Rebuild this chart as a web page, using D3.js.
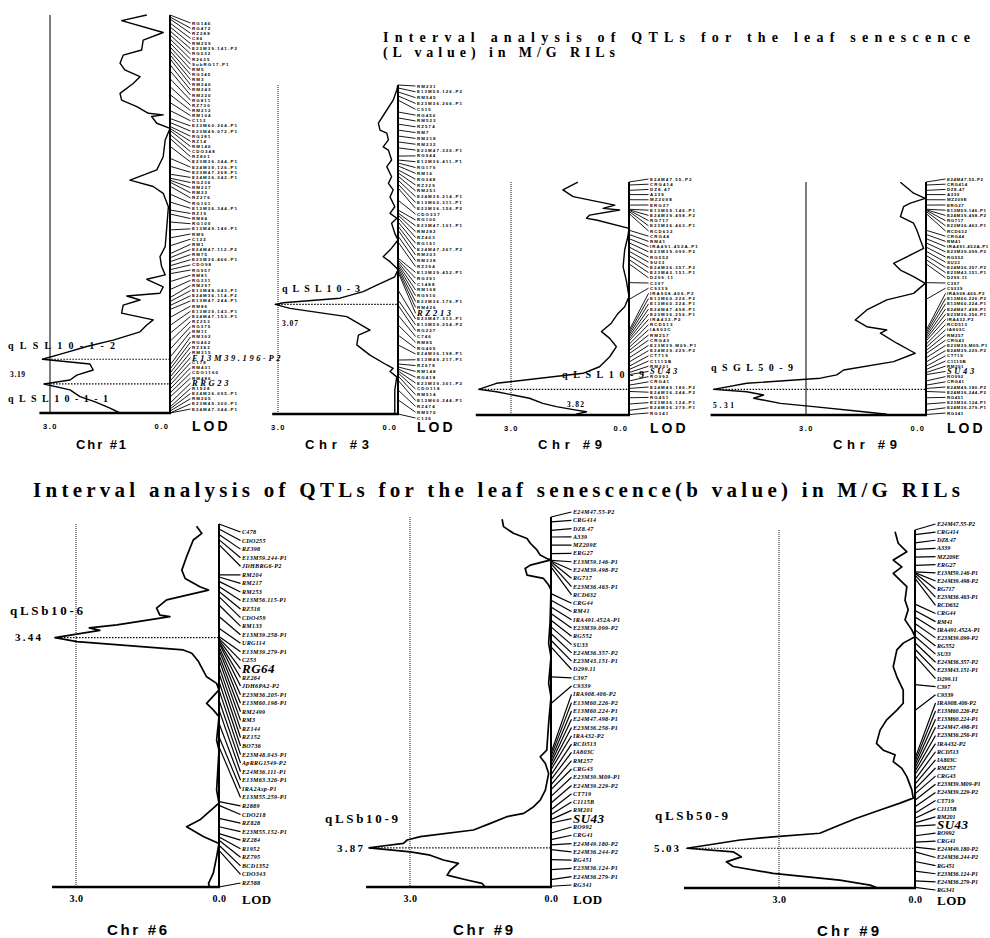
<!DOCTYPE html>
<html>
<head>
<meta charset="utf-8">
<script src="https://cdn.jsdelivr.net/npm/d3@7"></script>
<style>
body { margin: 0; background: #fff; }
text { fill: #000; }
</style>
</head>
<body>
<div id="chart-area"></div>
<script>
// ---------------- data ----------------
// marker names (top to bottom) and their positions on the chromosome (0-100)
var chr1Markers = [
    "RG146","RG472","RZ288","C86","RM259","E23M39.141-P2","RG532","R2635","SubRG17-P1","RM5",
    "RG345","RM3","RM240","RM243","RM220","RG811","RZ730","RM212","RM104","C112",
    "E23M60.264-P1","E23M49.072-P1","RG381","RZ14","RM140","CDO348","RZ801","E23M36.344-P1","E24M39.126-P1","E23M47.268-P1",
    "E24M36.342-P1","RG236","RM237","RM23","RZ276","RG101","E13M36.344-P1","RZ19","RM84","RG109",
    "E13M49.146-P1","RM9","C122","RM1","E24M47.112-P2","RM75","E23M36.466-P1","CDO98","RG957","RM81",
    "RG331","RM297","E13M48.043-P1","E24M36.114-P2","E13M47.244-P1","RM86","E13M39.143-P1","E24M47.153-P1","RZ253","RG375",
    "RM11","RM302","RG462","RZ382","RM315","E13M39.196-P2","C178","RM431","CDO1160","RM486",
    "RRG23","R1928","E24M36.095-P1","RM265","E23M49.300-P1","E24M47.344-P1"];
var chr1MarkerPos = [
    0,0.5,1,2,3,4,5,6,7,8,
    9,10,11,12.5,14,16,18,20,22,24,
    26,27,28,28.5,29,30,31,33,36,38,
    40,41,41.5,42,43,45,47,49,50,52,
    54,56,58,60,61,62,63,64,65,67,
    69,71,72,73,74,76,78,80,82,84,
    86,88,89,90,91,92,93,94,95,96,
    97.5,98.5,99,99.5,100,100];

var chr3Markers = [
    "RM231","E13M59.126-P2","RM545","E23M36.266-P1","C515","RG450","RM523","RZ574","RM7","RM218",
    "RM232","E23M47.320-P1","RG944","E13M36.411-P1","RG179","RM16","RG348","RZ329","RM251","E24M39.214-P1",
    "E13M60.311-P1","E23M36.156-P2","CDO337","RG100","E23M47.101-P1","RM282","RZ403","RG191","E24M47.267-P2","RM203",
    "RM338","RZ394","E13M39.452-P1","RG391","C1488","RM168","RG910","E23M36.176-P1","RM426","RZ213",
    "E23M47.313-P1","E13M59.254-P2","RG227","C746","RM85","RG409","E24M36.198-P1","E13M49.217-P1","RZ678","RM148",
    "RG418","E23M39.301-P2","CDO118","RM514","E13M60.244-P1","RZ474","RM570","C136"];
var chr3MarkerPos = [
    0,0.9,2.1,3.3,4.6,8.2,10,11.9,13.7,15.5,
    17.3,19.1,21.6,22.8,23.7,24.6,25.8,26.7,27.7,28.9,
    30.1,31.3,35,38,38.9,39.5,40.4,41.6,42.9,44.1,
    45.9,47.7,52.6,53.2,53.8,54.4,55,55.6,56.2,56.8,
    62.3,65.3,66.9,69.9,72.9,76,79,83.6,84.8,85.7,
    86.3,86.9,87.5,88.4,89.7,92.7,95.7,100];

var chr6Markers = [
    "C478","CDO255","RZ398","E13M59.244-P1","JDHBRG6-P2","RM204","RM217","RM253","E13M56.115-P1","RZ516",
    "CDO459","RM133","E13M39.258-P1","URG114","E13M39.279-P1","C253","RG64","RZ264","JDH6PA2-P2","E23M36.205-P1",
    "E13M60.198-P1","RM2499","RM3","RZ144","RZ152","BO736","E23M48.043-P1","ApRRG1549-P2","E24M36.111-P1","E13M63.326-P1",
    "IRA2Asp-P1","E13M55.259-P1","R2889","CDO218","RZ828","E23M55.152-P1","RZ284","R1952","RZ795","BCD1352",
    "CDO343","RZ588"];
var chr6MarkerPos = [
    0,1.4,2.9,4.3,5.7,14,14.6,15.8,17.2,18.6,
    20,22.3,25.5,28.7,31,31.5,31.9,32.4,32.8,33.8,
    34.7,36.1,37.4,39.3,41.1,43.4,45.7,48.5,51.2,54.9,
    58.6,61.4,76.5,77.5,81.1,83.4,85.3,86.2,87.1,88.5,
    89.9,100];

var chr9Markers = [
    "E24M47.55-P2","CRG414","DZ8.47","A339","MZ209E","ERG27","E13M59.146-P1","E24M39.498-P2","RG717","E23M36.463-P1",
    "RCD632","CRG44","RM41","IRA491.452A-P1","E23M39.099-P2","RG552","SU33","E24M36.357-P2","E23M43.151-P1","D299.11",
    "C397","C9339","IRA908.406-P2","E13M60.226-P2","E13M60.224-P1","E24M47.498-P1","E23M36.256-P1","IRA432-P2","RCD513","IA803C",
    "RM257","CRG43","E23M39.M09-P1","E24M39.229-P2","CT719","C1115B","RM201","SU43","RO992","CRG41",
    "E24M49.180-P2","E24M36.244-P2","RG451","E23M36.124-P1","E24M36.279-P1","RG341"];
var chr9MarkerPos = [
    0,1.3,3.6,5.4,7.6,9.9,11.7,11.9,12.1,12.6,
    13.5,20.7,22.5,24.3,26.1,27.9,29.7,31.5,33.3,35.1,
    43.2,50.4,63.8,64.7,65.6,66.5,67.4,68.3,69.7,71,
    72.4,73.7,75.5,77.3,79.1,80.5,81.8,82.7,85.4,87.2,
    88.6,89.9,92.6,95.3,98,99.8];

// LOD profiles: [position, LOD]
var lodChr1L = [[0,0.58],[1.4,1.21],[4.4,0.17],[6.3,0.67],[8.8,0.71],[10.1,1.17],[12.1,1.25],[13.8,1.13],[15.5,0.75],[17.2,0.92],
    [19.7,1.25],[21.4,1.21],[23,0.83],[24.7,0.54],[25.1,0.17],[25.5,0.46],[27.2,0.33],[28.5,0],[31.4,0.12],[35.6,0.17],
    [38.9,0.33],[41.5,1.0],[43.1,0.42],[44.8,0.17],[48.2,0.04],[53.2,0.08],[58.2,0.12],[60.7,0.25],[63.2,0.21],[65.3,0.12],
    [66.4,0.58],[68.3,0.17],[69.9,0.25],[70.6,1.08],[71.6,0.75],[72.9,1.17],[74.9,1.21],[76.6,0.42],[77.9,0.58],[79.6,0.75],
    [81.7,1.42],[83.3,2.08],[85,2.67],[86.5,3.19],[87.7,2.0],[89.2,1.92],[90.5,2.33],[91.7,2.5],[92.7,3.15],[94.2,2.5],
    [95.9,2.25],[97.2,1.87],[98.8,1.5],[100,1.25]];
var lodChr3L = [[0,0],[1.5,0.03],[4.6,0.12],[7.6,0.28],[11.6,0.49],[13.7,0.45],[14.6,0.28],[16.7,0.24],[18.8,0.37],[19.8,0.24],
    [22.8,0.16],[24.8,0.28],[27.9,0.16],[29.9,0.24],[31.9,0.12],[34.0,0.2],[37.0,0.08],[39.0,0.2],[40.5,0.03],[42.0,0.16],
    [45.1,0.08],[47.1,0],[49.6,0.16],[52.2,0.37],[53.7,0.2],[55.7,0.03],[56.2,0],[58.3,0.08],[60.8,0.53],[62.8,0.87],
    [64.8,1.45],[66.2,2.87],[66.7,3.07],[67.9,2.7],[70.4,1.28],[74.5,0.7],[76.0,0.99],[79.0,1.03],[80.5,0.87],[82.1,0.7],
    [85.1,0.28],[86.1,0.12],[87.1,0.2],[88.7,0.03],[92.7,0.08],[100,0.08]];
var lodChr9L = [[0.1,1.3],[3.4,1.68],[6.3,1.42],[9.9,0.36],[11.3,0.66],[12.0,0.24],[14.2,1.0],[15.6,1.08],[16.3,0.83],[19.9,0],
    [23.5,0.03],[29.2,0.11],[36.4,0.15],[42.1,0.07],[49.2,0],[53.5,0.11],[56.4,0.28],[60.6,0.45],[64.2,0.7],[67.1,0.49],
    [70.7,0.32],[75.0,0.49],[79.3,0.75],[82.1,1.17],[86.4,3.37],[89.0,3.82],[90.0,3.37],[92.8,2.53],[95.0,2.19],[96.4,1.85],
    [97.9,1.34],[98.6,1.08],[99.6,1.34]];
var lodChr9SGL = [[0.1,0.64],[4.8,0.31],[7.0,0.02],[9.1,0.39],[10.6,0.56],[14.9,0.64],[17.7,0.31],[20.6,0.23],[24.9,0.14],[28.5,0.06],
    [32.1,0.48],[34.9,0.81],[37.8,0.64],[40.6,0.31],[43.5,0.02],[47.8,0.31],[50.6,0.98],[54.9,1.48],[59.2,1.77],[62.1,1.48],
    [63.5,0.98],[64.9,1.14],[69.2,0.73],[73.5,0.27],[77.1,0.81],[80.7,2.06],[82.8,2.23],[84.2,2.64],[86.4,4.48],[89.0,5.31],
    [90.0,4.48],[91.4,4.06],[92.8,4.31],[95.0,3.64],[96.4,2.81],[98.6,1.56],[99.7,0.98]];
var lodChr6b = [[0.6,0.47],[2.6,0.36],[4.4,0.54],[9.0,0.68],[12.7,0.78],[15.0,0.71],[17.3,0.40],[18.2,0.22],[20.9,1.10],[23.2,1.31],
    [25.1,1.24],[25.5,1.03],[27.8,2.14],[28.6,2.72],[29.3,2.5],[31.3,3.44],[32.4,2.98],[34.7,0.75],[35.6,0.57],[37.9,0.43],
    [42.1,0.26],[43.9,0.05],[45.7,0],[49.4,0.26],[51.2,0.12],[53.1,0],[59.5,0.05],[62.3,0],[73.3,0.05],[76.9,0],
    [81.5,0.4],[83.4,0.68],[86.1,0.33],[88.0,0],[91.7,0.05],[96.2,0.12],[99.0,0.22],[99.9,0.2]];
var lodChr9b10 = [[0.6,1.04],[2.6,1.01],[4.4,0.80],[5.8,0.51],[7.1,0.44],[8.9,0.30],[10.3,0.23],[11.2,0.09],[11.6,0],[13.0,0.44],
    [13.9,0.55],[15.7,0.51],[16.6,0.16],[18.4,0.05],[19.7,0],[28.6,0.02],[34.1,0.05],[37.8,0],[44.9,0.05],[48.6,0],
    [55.7,0.05],[63.0,0.09],[64.8,0.23],[66.6,0.12],[69.3,0.05],[73.8,0.12],[76.5,0.23],[78.3,0.37],[80.1,0.58],[81.0,0.94],
    [82.8,1.29],[84.6,1.65],[86.4,2.78],[87.3,3.06],[88.2,3.14],[89.4,3.87],[90.5,2.99],[91.4,2.57],[92.7,2.29],[93.6,1.97],
    [95.4,2.14],[96.8,2.21],[98.1,1.79],[99.0,1.47],[100,1.40]];
var lodChr9b50 = [[0.5,0.44],[3.7,0.37],[6.1,0.18],[8.4,0.48],[10.3,0.29],[12.1,0.48],[14.0,0.33],[15.8,0.18],[19.6,0.22],[22.3,0.15],
    [25.1,0.22],[27.9,0.07],[29.8,0],[31.6,0.26],[33.5,0.40],[38.2,0.48],[41.0,0.40],[44.7,0.26],[48.4,0.26],[50.3,0.40],
    [53.1,0.63],[55.9,0.77],[59.6,0.85],[61.5,0.70],[62.8,0.44],[64.7,0.48],[66.6,0.29],[68.9,0.18],[72.6,0.07],[74.9,0.04],
    [76.3,0.33],[78.2,0.77],[80.5,1.29],[82.4,1.66],[84.7,2.10],[85.7,3.13],[86.6,3.86],[88.9,5.03],[89.9,4.01],[91.3,3.83],
    [92.7,4.16],[94.0,4.01],[95.9,3.13],[97.8,1.66],[99.2,0.99],[99.9,0.85]];

// QTL peaks [position, LOD] and names
var peaksChr1L = [[86.5,3.19],[92.7,3.15]];
var peaksChr3L = [[66.7,3.07]];
var peaksChr9L = [[89.0,3.82]];
var peaksChr9SGL = [[89.0,5.31]];
var peaksChr6b = [[31.3,3.44]];
var peaksChr9b10 = [[89.4,3.87]];
var peaksChr9b50 = [[88.9,5.03]];
var qtlChr1L = ["qLSL10-1-2","qLSL10-1-1"];
var qtlChr3L = ["qLSL10-3"];
var qtlChr9L = ["qLSL10-9"];
var qtlChr9SGL = ["qSGL50-9"];
var qtlChr6b = ["qLSb10-6"];
var qtlChr9b10 = ["qLSb10-9"];
var qtlChr9b50 = ["qLSb50-9"];

var titleTop = ["Interval analysis of QTLs for the leaf senescence", "(L value) in  M/G RILs"];
var titleBottom = "Interval analysis of QTLs for the leaf senescence(b value) in  M/G RILs";

// ---------------- layout ----------------
var SERIF = "'Liberation Serif', 'DejaVu Serif', serif";
var SANS = "'Liberation Sans', Arial, sans-serif";

var panels = [
    {chr: "Chr #1", markers: chr1Markers, markerPos: chr1MarkerPos, lod: lodChr1L, peaks: peaksChr1L, qtl: qtlChr1L,
     axisX: 170, x3: 50, top: 15, bottom: 413, labelX: 192, labelTop: 23, labelBottom: 409, big: ["E13M39.196-P2", "RRG23"],
     small: true, solid3: true, chrX: 101, chrW: 50, spacing: 1.1,
     qtlBox: [{x: 8, y: 349, w: 107}, {x: 8, y: 402, w: 100}], valBox: {x: 10, y: 377, w: 15}},
    {chr: "Chr #3", markers: chr3Markers, markerPos: chr3MarkerPos, lod: lodChr3L, peaks: peaksChr3L, qtl: qtlChr3L,
     axisX: 398, x3: 278, top: 85, bottom: 414, labelX: 417, labelTop: 86, labelBottom: 418, big: ["RZ213"],
     small: true, solid3: false, chrX: 337, chrW: 64, spacing: 1.1,
     qtlBox: [{x: 282, y: 292, w: 78}], valBox: {x: 282, y: 326, w: 16}},
    {chr: "Chr #9", markers: chr9Markers, markerPos: chr9MarkerPos, lod: lodChr9L, peaks: peaksChr9L, qtl: qtlChr9L,
     axisX: 629, x3: 511, top: 182, bottom: 415, labelX: 650, labelTop: 179, labelBottom: 413, big: ["SU43"],
     small: true, solid3: false, chrX: 570, chrW: 64, spacing: 1.1,
     qtlBox: [{x: 562, y: 378, w: 82}], valBox: {x: 567, y: 407, w: 17}},
    {chr: "Chr #9", markers: chr9Markers, markerPos: chr9MarkerPos, lod: lodChr9SGL, peaks: peaksChr9SGL, qtl: qtlChr9SGL,
     axisX: 926, x3: 806, top: 182, bottom: 415, labelX: 947, labelTop: 179, labelBottom: 413, big: ["SU43"],
     small: true, solid3: true, chrX: 865, chrW: 64, spacing: 0.6,
     qtlBox: [{x: 711, y: 371, w: 82}], valBox: {x: 713, y: 408, w: 21}},
    {chr: "Chr #6", markers: chr6Markers, markerPos: chr6MarkerPos, lod: lodChr6b, peaks: peaksChr6b, qtl: qtlChr6b,
     axisX: 219, x3: 76, top: 524, bottom: 887, labelX: 242, labelTop: 532, labelBottom: 883, big: ["RG64"],
     small: false, solid3: false, chrX: 137, chrW: 60, spacing: 0.3,
     qtlBox: [{x: 10, y: 615, w: 73}], valBox: {x: 15, y: 641, w: 26}},
    {chr: "Chr #9", markers: chr9Markers, markerPos: chr9MarkerPos, lod: lodChr9b10, peaks: peaksChr9b10, qtl: qtlChr9b10,
     axisX: 551, x3: 410, top: 517, bottom: 887, labelX: 573, labelTop: 512, labelBottom: 885, big: ["SU43"],
     small: false, solid3: false, chrX: 483, chrW: 60, spacing: 0.3,
     qtlBox: [{x: 325, y: 823, w: 73}], valBox: {x: 337, y: 852, w: 26}},
    {chr: "Chr #9", markers: chr9Markers, markerPos: chr9MarkerPos, lod: lodChr9b50, peaks: peaksChr9b50, qtl: qtlChr9b50,
     axisX: 915, x3: 779, top: 530, bottom: 888, labelX: 937, labelTop: 524, labelBottom: 890, big: ["SU43"],
     small: false, solid3: false, chrX: 848, chrW: 62, spacing: 0,
     qtlBox: [{x: 655, y: 820, w: 73}], valBox: {x: 654, y: 852, w: 25}}
];

var svg = d3.select("#chart-area").append("svg")
    .attr("width", 990)
    .attr("height", 938)
    .style("display", "block");

svg.append("rect").attr("width", 990).attr("height", 938).attr("fill", "#fff");

// titles
svg.selectAll(".ttop").data(titleTop).enter().append("text")
    .attr("x", 383)
    .attr("y", (d, i) => 42 + i * 15)
    .attr("textLength", (d, i) => i === 0 ? 587 : 232)
    .attr("lengthAdjust", "spacing")
    .style("font-family", SERIF).style("font-weight", "bold").style("font-size", "14px")
    .text(d => d);

svg.append("text")
    .attr("x", 33).attr("y", 497)
    .attr("textLength", 927).attr("lengthAdjust", "spacing")
    .style("font-family", SERIF).style("font-weight", "bold").style("font-size", "21px")
    .text(titleBottom);

panels.forEach(drawPanel);

function drawPanel(p) {
    var x = d3.scaleLinear().domain([0, 3]).range([p.axisX, p.x3]);
    var y = d3.scaleLinear().domain([0, 100]).range([p.top, p.bottom]);
    var ly = d3.scalePoint().domain(p.markers).range([p.labelTop, p.labelBottom]);
    var g = svg.append("g");
    var peakMax = d3.max(p.peaks, d => d[1]);
    var isBig = d => p.big.indexOf(d) >= 0;

    // LOD 3.0 threshold line
    g.append("line")
        .attr("x1", x(3)).attr("x2", x(3))
        .attr("y1", y(0)).attr("y2", y(100))
        .attr("stroke", "#111")
        .attr("stroke-width", p.solid3 ? 1.1 : 1)
        .attr("stroke-dasharray", p.solid3 ? null : "1,1");

    // lines from marker positions to labels
    g.selectAll(".fan").data(p.markers).enter().append("line")
        .attr("x1", p.axisX)
        .attr("y1", (d, i) => y(p.markerPos[i]))
        .attr("x2", p.labelX - 1.5)
        .attr("y2", d => ly(d))
        .attr("stroke", "#000")
        .attr("stroke-width", p.small ? 0.9 : 1.2);

    g.selectAll(".mk").data(p.markers).enter().append("text")
        .attr("x", p.labelX)
        .attr("y", d => ly(d))
        .attr("dominant-baseline", "central")
        .style("font-family", d => isBig(d) || !p.small ? SERIF : SANS)
        .style("font-style", d => isBig(d) || !p.small ? "italic" : "normal")
        .style("font-weight", "bold")
        .style("font-size", d => isBig(d) ? (p.small ? "8.5px" : "13px") : (p.small ? "4.4px" : "6.1px"))
        .style("letter-spacing", d => isBig(d) ? (p.small ? "2.6px" : "0.5px") : p.spacing + "px")
        .text(d => d);

    // LOD profile
    var line = d3.line()
        .x(d => x(d[1]))
        .y(d => y(d[0]));
    g.append("path")
        .datum(p.lod)
        .attr("d", line)
        .attr("fill", "none")
        .attr("stroke", "#000")
        .attr("stroke-width", p.small ? 1.4 : 1.7)
        .attr("stroke-linejoin", "round");

    // peak dotted lines
    g.selectAll(".pk").data(p.peaks).enter().append("line")
        .attr("x1", d => x(d[1]))
        .attr("x2", p.axisX)
        .attr("y1", d => y(d[0]))
        .attr("y2", d => y(d[0]))
        .attr("stroke", "#000")
        .attr("stroke-width", 1.2)
        .attr("stroke-dasharray", "1.5,1.5");

    // chromosome axis and baseline
    g.append("line")
        .attr("x1", p.axisX).attr("x2", p.axisX)
        .attr("y1", y(0)).attr("y2", y(100))
        .attr("stroke", "#000").attr("stroke-width", 2);
    g.append("line")
        .attr("x1", x(peakMax) - 3).attr("x2", p.axisX + 1)
        .attr("y1", y(100)).attr("y2", y(100))
        .attr("stroke", "#000").attr("stroke-width", 2.4);

    // LOD tick labels
    var axis = d3.axisBottom(x)
        .tickValues([3, 0])
        .tickFormat(d3.format(".1f"))
        .tickSize(0);
    var ag = g.append("g")
        .attr("transform", "translate(0," + y(100) + ")")
        .call(axis);
    ag.select(".domain").remove();
    ag.selectAll("text")
        .attr("dy", null)
        .attr("y", p.small ? 16 : 15)
        .attr("fill", "#000")
        .style("font-family", p.small ? SANS : SERIF)
        .style("font-weight", "bold")
        .style("font-size", p.small ? "7.5px" : "10px")
        .style("letter-spacing", p.small ? "1.5px" : "0.5px")
        .attr("text-anchor", d => (p.small && d === 0) ? "end" : "middle")
        .attr("dx", d => (p.small && d === 0) ? -1 : 0);

    g.append("text")
        .attr("x", p.labelX)
        .attr("y", y(100) + (p.small ? 18 : 17))
        .style("font-family", p.small ? SANS : SERIF)
        .style("font-weight", "bold")
        .style("font-size", p.small ? "14px" : "13px")
        .style("letter-spacing", p.small ? "3px" : "0.5px")
        .text("LOD");

    g.append("text")
        .attr("x", p.chrX - p.chrW / 2)
        .attr("y", p.small ? 449 : y(100) + 48)
        .attr("textLength", p.chrW)
        .attr("lengthAdjust", "spacing")
        .style("font-family", SANS)
        .style("font-weight", "bold")
        .style("font-size", p.small ? "13px" : "15px")
        .text(p.chr);

    // QTL annotations
    g.selectAll(".qn").data(p.qtl).enter().append("text")
        .attr("x", (d, i) => p.qtlBox[i].x)
        .attr("y", (d, i) => p.qtlBox[i].y)
        .attr("textLength", (d, i) => p.qtlBox[i].w)
        .attr("lengthAdjust", "spacing")
        .style("font-family", SERIF)
        .style("font-weight", "bold")
        .style("font-size", p.small ? "10px" : "13px")
        .text(d => d);
    g.append("text")
        .attr("x", p.valBox.x)
        .attr("y", p.valBox.y)
        .attr("textLength", p.valBox.w)
        .attr("lengthAdjust", "spacing")
        .style("font-family", SERIF)
        .style("font-weight", "bold")
        .style("font-size", p.small ? "7.5px" : "11px")
        .text(d3.format(".2f")(p.peaks[0][1]));
}
</script>
</body>
</html>
